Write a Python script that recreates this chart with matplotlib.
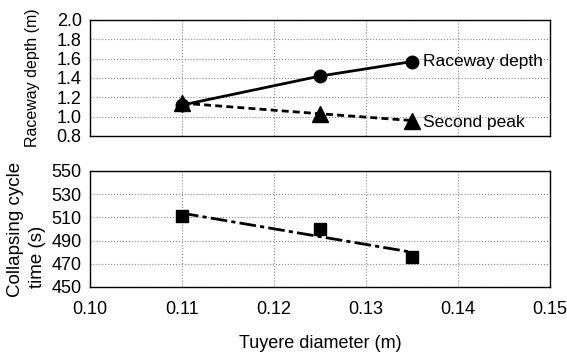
import matplotlib
matplotlib.use("Agg")
import matplotlib.pyplot as plt
import numpy as np

plt.rcParams["font.family"] = ["Liberation Sans", "DejaVu Sans"]

# data
diametro = [0.11, 0.125, 0.135]
raceway_depth = [1.12, 1.42, 1.57]
second_peak = [1.14, 1.03, 0.96]
ciclo = [511, 500, 476]

x_ticks = [0.10, 0.11, 0.12, 0.13, 0.14, 0.15]

FS = 13
W, H = 567, 354

fig = plt.figure(figsize=(5.67, 3.54), dpi=100)
ax1 = fig.add_axes([90 / W, 1 - 136 / H, 460 / W, 116 / H])
ax2 = fig.add_axes([90 / W, 1 - 287 / H, 460 / W, 116 / H])

grid_kw = dict(color="#888888", linestyle=":", linewidth=0.8)

# painel superior
ax1.plot(diametro, raceway_depth, color="black", lw=2, marker="o", ms=9, zorder=3)
ax1.plot(diametro, second_peak, color="black", lw=2, ls=(0, (2.5, 1.5)),
         marker="^", ms=11, zorder=4)
ax1.text(diametro[-1] + 0.0012, raceway_depth[-1], "Raceway depth",
         fontsize=12.5, va="center", ha="left")
ax1.text(diametro[-1] + 0.0012, second_peak[-1] - 0.02, "Second peak",
         fontsize=12.5, va="center", ha="left")
ax1.set_xlim(0.10, 0.15)
ax1.set_ylim(0.8, 2.0)
ax1.set_yticks(np.arange(0.8, 2.01, 0.2))
ax1.set_yticklabels([f"{v:.1f}" for v in np.arange(0.8, 2.01, 0.2)])
ax1.set_xticks(x_ticks)
ax1.set_xticklabels([])
ax1.grid(True, **grid_kw)

# painel inferior
ax2.plot(diametro, ciclo, ls="none", marker="s", ms=8, color="black", zorder=3)
coef = np.polyfit(diametro, ciclo, 1)
xs = np.array([diametro[0], diametro[-1]])
ax2.plot(xs, np.polyval(coef, xs), color="black", lw=2,
         ls=(0, (6, 1.5, 1.5, 1.5)), zorder=2)
ax2.set_xlim(0.10, 0.15)
ax2.set_ylim(450, 550)
ax2.set_yticks(range(450, 551, 20))
ax2.set_xticks(x_ticks)
ax2.set_xticklabels([f"{v:.2f}" for v in x_ticks])
ax2.grid(True, **grid_kw)

for ax in (ax1, ax2):
    ax.tick_params(length=0, labelsize=FS, pad=6)
    for s in ax.spines.values():
        s.set_linewidth(1.0)
    ax.set_axisbelow(True)
ax2.tick_params(axis="x", pad=10)

# rotulos dos eixos
fig.text(33 / W, 1 - 78 / H, "Raceway depth (m)", fontsize=11.5,
         rotation=90, ha="center", va="center")
fig.text(16 / W, 1 - 297 / H, "Collapsing cycle", fontsize=13.5,
         rotation=90, ha="left", va="center", rotation_mode="anchor")
fig.text(38 / W, 1 - 288 / H, "time (s)", fontsize=13.5,
         rotation=90, ha="left", va="center", rotation_mode="anchor")
fig.text(320 / W, 1 - 348 / H, "Tuyere diameter (m)", fontsize=FS,
         ha="center", va="baseline")

fig.savefig("out.png", dpi=100)
